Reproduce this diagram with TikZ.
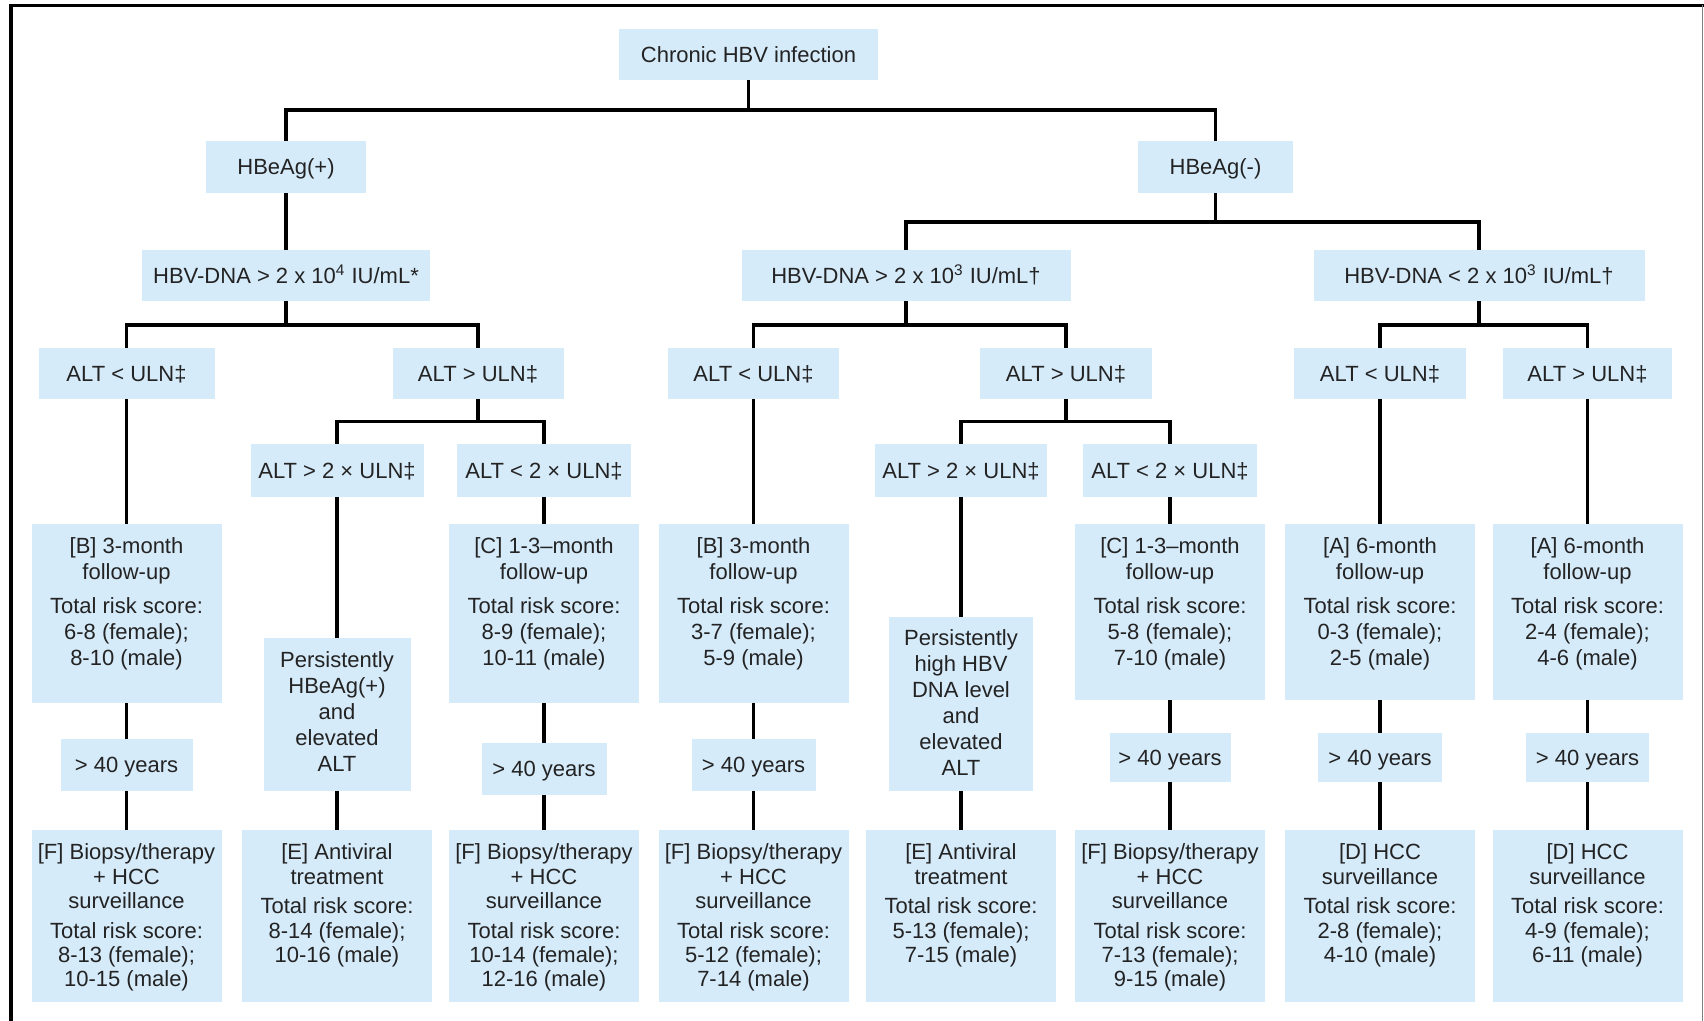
\documentclass[tikz,border=0pt]{standalone}
\usepackage{fontspec}
\setmainfont{Liberation Sans}
\definecolor{boxblue}{RGB}{214,235,250}
\definecolor{txt}{RGB}{35,35,35}
\begin{document}
\begin{tikzpicture}[x=0.5pt,y=-0.5pt,
  box/.style={fill=boxblue, inner sep=0pt, align=center, text=txt,
              font=\fontsize{11}{13}\selectfont, text height=8pt, text depth=0.4pt},
  emptybox/.style={fill=boxblue, inner sep=0pt},
  ftext/.style={inner sep=0pt, align=center, text=txt, font=\fontsize{11}{13}\selectfont, anchor=north},
  gtext/.style={inner sep=0pt, align=center, text=txt, font=\fontsize{11}{12.2}\selectfont, anchor=north},
  fw/.style={minimum width=95pt, minimum height=89.5pt},
  gw/.style={minimum width=95pt, minimum height=86pt},
  conn/.style={line width=1.9pt, draw=black}]
\useasboundingbox (0,0) rectangle (1704,1021);
% frame
\draw[line width=1.6pt] (11,1025) -- (11,5.5) -- (1704,5.5);
\draw[line width=0.6pt, draw=gray] (1702.5,5.5) -- (1702.5,1025);

% level 0-2
\node[box, minimum width=129.5pt, minimum height=25.5pt] (root) at (748.5,54.5) {Chronic HBV infection};
\node[box, minimum width=80pt, minimum height=26pt] (hp) at (286,167) {HBeAg(+)};
\node[box, minimum width=77.5pt, minimum height=26pt] (hn) at (1215.5,167) {HBeAg(-)};
\node[box, minimum width=144pt, minimum height=25.5pt] (dna4) at (286,275.5) {HBV-DNA > 2 x 10\textsuperscript{4} IU/mL*};
\node[box, minimum width=164.5pt, minimum height=25.5pt] (dna3a) at (906,275.5) {HBV-DNA > 2 x 10\textsuperscript{3} IU/mL†};
\node[box, minimum width=165.5pt, minimum height=25.5pt] (dna3b) at (1479,275.5) {HBV-DNA < 2 x 10\textsuperscript{3} IU/mL†};

% level 3
\node[box, minimum width=88pt, minimum height=25.5pt] (a1) at (126.5,373.5) {ALT < ULN‡};
\node[box, minimum width=85.5pt, minimum height=25.5pt] (a2) at (478,373.5) {ALT > ULN‡};
\node[box, minimum width=85.5pt, minimum height=25.5pt] (a3) at (753.5,373.5) {ALT < ULN‡};
\node[box, minimum width=86pt, minimum height=25.5pt] (a4) at (1066,373.5) {ALT > ULN‡};
\node[box, minimum width=86pt, minimum height=25.5pt] (a5) at (1380,373.5) {ALT < ULN‡};
\node[box, minimum width=84.5pt, minimum height=25.5pt] (a6) at (1587.5,373.5) {ALT > ULN‡};

% level 4
\node[box, minimum width=86.5pt, minimum height=26.5pt] (b1) at (337,470.5) {ALT > 2 × ULN‡};
\node[box, minimum width=87pt, minimum height=26.5pt] (b2) at (544,470.5) {ALT < 2 × ULN‡};
\node[box, minimum width=86pt, minimum height=26.5pt] (b3) at (961,470.5) {ALT > 2 × ULN‡};
\node[box, minimum width=87pt, minimum height=26.5pt] (b4) at (1170,470.5) {ALT < 2 × ULN‡};

% level 5: follow-up boxes
\node[emptybox, fw] (f1) at (126.5,613.5) {};
\node[ftext] (f1t) at ([yshift=-7pt]f1.north) {[B] 3-month\\follow-up\\[4pt]Total risk score:\\6-8 (female);\\8-10 (male)};
\node[emptybox, minimum width=73.5pt, minimum height=76.5pt] (p1) at (337,714.5) {};
\node[ftext] (p1t) at ([yshift=-7pt]p1.north) {Persistently\\HBeAg(+)\\and\\elevated\\ALT};
\node[emptybox, fw] (f3) at (544,613.5) {};
\node[ftext] (f3t) at ([yshift=-7pt]f3.north) {[C] 1-3–month\\follow-up\\[4pt]Total risk score:\\8-9 (female);\\10-11 (male)};
\node[emptybox, fw] (f4) at (753.5,613.5) {};
\node[ftext] (f4t) at ([yshift=-7pt]f4.north) {[B] 3-month\\follow-up\\[4pt]Total risk score:\\3-7 (female);\\5-9 (male)};
\node[emptybox, minimum width=72pt, minimum height=87pt] (p2) at (961,704) {};
\node[ftext] (p2t) at ([yshift=-6.5pt]p2.north) {Persistently\\high HBV\\DNA level\\and\\elevated\\ALT};
\node[emptybox, fw, minimum height=88pt] (f6) at (1170,612) {};
\node[ftext] (f6t) at ([yshift=-7pt]f6.north) {[C] 1-3–month\\follow-up\\[4pt]Total risk score:\\5-8 (female);\\7-10 (male)};
\node[emptybox, fw, minimum height=88pt] (f7) at (1380,612) {};
\node[ftext] (f7t) at ([yshift=-7pt]f7.north) {[A] 6-month\\follow-up\\[4pt]Total risk score:\\0-3 (female);\\2-5 (male)};
\node[emptybox, fw, minimum height=88pt] (f8) at (1587.5,612) {};
\node[ftext] (f8t) at ([yshift=-7pt]f8.north) {[A] 6-month\\follow-up\\[4pt]Total risk score:\\2-4 (female);\\4-6 (male)};

% level 6: age boxes
\node[box, minimum width=66pt, minimum height=26pt] (y1) at (126.5,765) {> 40 years};
\node[box, minimum width=62.5pt, minimum height=26pt] (y3) at (544,769) {> 40 years};
\node[box, minimum width=62pt, minimum height=26pt] (y4) at (753.5,765) {> 40 years};
\node[box, minimum width=60.5pt, minimum height=24.5pt] (y6) at (1170,757.5) {> 40 years};
\node[box, minimum width=62pt, minimum height=24.5pt] (y7) at (1380,757.5) {> 40 years};
\node[box, minimum width=61.5pt, minimum height=24.5pt] (y8) at (1587.5,757.5) {> 40 years};

% level 7: outcome boxes
\node[emptybox, gw] (g1) at (126.5,916) {};
\node[gtext] (g1t) at ([yshift=-7pt]g1.north) {[F] Biopsy/therapy\\+ HCC\\surveillance\\[2.5pt]Total risk score:\\8-13 (female);\\10-15 (male)};
\node[emptybox, gw] (g2) at (337,916) {};
\node[gtext] (g2t) at ([yshift=-7pt]g2.north) {[E] Antiviral\\treatment\\[2.5pt]Total risk score:\\8-14 (female);\\10-16 (male)};
\node[emptybox, gw] (g3) at (544,916) {};
\node[gtext] (g3t) at ([yshift=-7pt]g3.north) {[F] Biopsy/therapy\\+ HCC\\surveillance\\[2.5pt]Total risk score:\\10-14 (female);\\12-16 (male)};
\node[emptybox, gw] (g4) at (753.5,916) {};
\node[gtext] (g4t) at ([yshift=-7pt]g4.north) {[F] Biopsy/therapy\\+ HCC\\surveillance\\[2.5pt]Total risk score:\\5-12 (female);\\7-14 (male)};
\node[emptybox, gw] (g5) at (961,916) {};
\node[gtext] (g5t) at ([yshift=-7pt]g5.north) {[E] Antiviral\\treatment\\[2.5pt]Total risk score:\\5-13 (female);\\7-15 (male)};
\node[emptybox, gw] (g6) at (1170,916) {};
\node[gtext] (g6t) at ([yshift=-7pt]g6.north) {[F] Biopsy/therapy\\+ HCC\\surveillance\\[2.5pt]Total risk score:\\7-13 (female);\\9-15 (male)};
\node[emptybox, gw] (g7) at (1380,916) {};
\node[gtext] (g7t) at ([yshift=-7pt]g7.north) {[D] HCC\\surveillance\\[2.5pt]Total risk score:\\2-8 (female);\\4-10 (male)};
\node[emptybox, gw] (g8) at (1587.5,916) {};
\node[gtext] (g8t) at ([yshift=-7pt]g8.north) {[D] HCC\\surveillance\\[2.5pt]Total risk score:\\4-9 (female);\\6-11 (male)};

% bus coordinates
\coordinate (bus0) at (748.5,110);
\coordinate (bus1) at (1215.5,222);
\coordinate (bus2) at (286,325);
\coordinate (bus3) at (906,325);
\coordinate (bus4) at (1479,325);
\coordinate (bus5) at (478,421.5);
\coordinate (bus6) at (1066,421.5);

% connectors
\draw[conn] (root.south) -- (bus0);
\draw[conn] (hp.north) |- (bus0) -| (hn.north);
\draw[conn] (hp.south) -- (dna4.north);
\draw[conn] (hn.south) -- (bus1);
\draw[conn] (dna3a.north) |- (bus1) -| (dna3b.north);
\draw[conn] (dna4.south) -- (bus2);
\draw[conn] (a1.north) |- (bus2) -| (a2.north);
\draw[conn] (dna3a.south) -- (bus3);
\draw[conn] (a3.north) |- (bus3) -| (a4.north);
\draw[conn] (dna3b.south) -- (bus4);
\draw[conn] (a5.north) |- (bus4) -| (a6.north);
\draw[conn] (a2.south) -- (bus5);
\draw[conn] (b1.north) |- (bus5) -| (b2.north);
\draw[conn] (a4.south) -- (bus6);
\draw[conn] (b3.north) |- (bus6) -| (b4.north);

\draw[conn] (a1.south) -- (f1.north);
\draw[conn] (b1.south) -- (p1.north);
\draw[conn] (b2.south) -- (f3.north);
\draw[conn] (a3.south) -- (f4.north);
\draw[conn] (b3.south) -- (p2.north);
\draw[conn] (b4.south) -- (f6.north);
\draw[conn] (a5.south) -- (f7.north);
\draw[conn] (a6.south) -- (f8.north);

\draw[conn] (f1.south) -- (y1.north);
\draw[conn] (y1.south) -- (g1.north);
\draw[conn] (p1.south) -- (g2.north);
\draw[conn] (f3.south) -- (y3.north);
\draw[conn] (y3.south) -- (g3.north);
\draw[conn] (f4.south) -- (y4.north);
\draw[conn] (y4.south) -- (g4.north);
\draw[conn] (p2.south) -- (g5.north);
\draw[conn] (f6.south) -- (y6.north);
\draw[conn] (y6.south) -- (g6.north);
\draw[conn] (f7.south) -- (y7.north);
\draw[conn] (y7.south) -- (g7.north);
\draw[conn] (f8.south) -- (y8.north);
\draw[conn] (y8.south) -- (g8.north);
\end{tikzpicture}
\end{document}
